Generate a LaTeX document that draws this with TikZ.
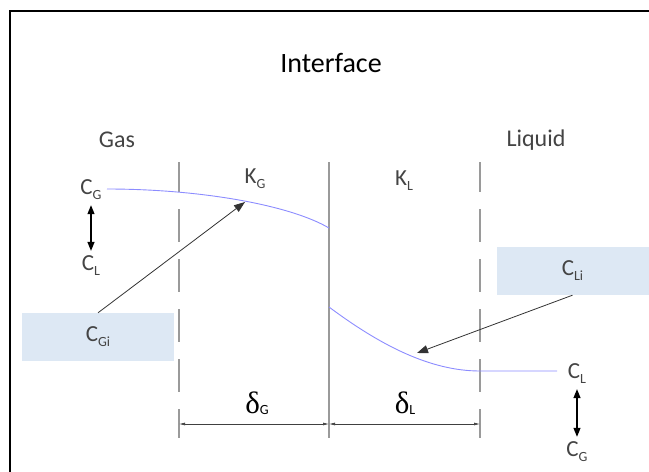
\documentclass[tikz,border=0pt]{standalone}
\usepackage{fontspec}
\setmainfont{Carlito}
\newfontfamily\greekfont{Liberation Serif}
\usetikzlibrary{arrows.meta}

\definecolor{boxblue}{HTML}{DDE8F4}
\definecolor{curveblue}{HTML}{8C8CFF}
\definecolor{filmgray}{HTML}{9A9A9A}
\definecolor{txtgray}{HTML}{444444}

% concentration label with a lowered subscript
\newcommand{\conc}[2]{#1\raisebox{-0.45ex}{\fontsize{14}{15}\selectfont #2}}
\newcommand{\filmth}[1]{{\greekfont\fontsize{31}{33}\selectfont δ}\raisebox{-0.2ex}{\fontsize{14}{15}\selectfont #1}}

\tikzset{
  lbl/.style={text=txtgray, font=\fontsize{23}{26}\selectfont, inner sep=0pt},
  phase/.style={text=txtgray, font=\fontsize{24}{28}\selectfont, inner sep=0pt},
  conbox/.style={fill=boxblue, minimum width=152pt, minimum height=48pt, inner sep=0pt,
    text=txtgray, font=\fontsize{23}{26}\selectfont},
  film/.style={filmgray, line width=1.3pt, dash pattern=on 33pt off 17pt, dash phase=3pt},
  flux/.style={black!80, line width=0.8pt, -{Triangle[length=11pt,width=8pt]}},
  swap/.style={black, line width=1.2pt, {Triangle[length=9pt,width=7pt]}-{Triangle[length=9pt,width=7pt]},
    shorten <=5pt, shorten >=5pt},
  dim/.style={black!75, line width=0.7pt, {Latex[length=6pt,width=3pt]}-{Latex[length=6pt,width=3pt]}}
}

\begin{document}
\begin{tikzpicture}[x=1pt, y=-1pt]
  \useasboundingbox (0,0) rectangle (649,472);
  \draw[line width=2pt] (10,472) -- (10,11) -- (649,11);

  \node[font=\fontsize{28}{32}\selectfont, inner sep=0pt] (iface) at (331,63) {Interface};
  \node[phase] (gas) at (117,140) {Gas};
  \node[phase] (liq) at (536,140) {Liquid};

  % films and interface
  \draw[film] (179,162) -- (179,438);
  \draw[filmgray, line width=1.3pt] (329,162) -- (329,438);
  \draw[film] (480,162) -- (480,438);

  % concentration profiles
  \draw[curveblue, line width=0.9pt] (107,189) .. controls (200,189) and (290,205) .. (329,228);
  \draw[curveblue, line width=0.9pt] (329,307) .. controls (380,345) and (430,371) .. (480,371) -- (557,371);

  \node[lbl] (kg) at (255,179) {\conc{K}{G}};
  \node[lbl] (kl) at (404,181) {\conc{K}{L}};

  \node[lbl] (cgl) at (91,190) {\conc{C}{G}};
  \node[lbl] (cll) at (91,266) {\conc{C}{L}};
  \draw[swap] (cgl.south) -- (cll.north);

  \node[lbl] (clr) at (577,374) {\conc{C}{L}};
  \node[lbl] (cgr) at (577,452) {\conc{C}{G}};
  \draw[swap] (clr.south) -- (cgr.north);

  \node[conbox] (cgi) at (98,337) {\conc{C}{Gi}};
  \node[conbox] (cli) at (572.5,271) {\conc{C}{Li}};
  \coordinate (gtip) at (245,202);
  \coordinate (ltip) at (417,353);
  \draw[flux] (cgi.north) -- (gtip);
  \draw[flux] (cli.south) -- (ltip);

  % film thicknesses
  \coordinate (ga) at (179,424);
  \coordinate (ia) at (329,424);
  \coordinate (la) at (480,424);
  \draw[dim] (ga) -- (ia);
  \draw[dim] (ia) -- (la);
  \node[inner sep=0pt] (dg) at (257,403) {\filmth{G}};
  \node[inner sep=0pt] (dl) at (405,403) {\filmth{L}};
\end{tikzpicture}
\end{document}
